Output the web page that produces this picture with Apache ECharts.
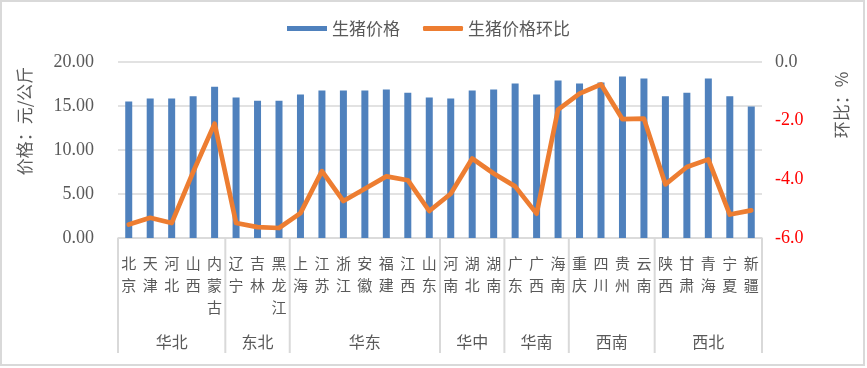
<!DOCTYPE html>
<html>
<head>
<meta charset="utf-8">
<script src="https://cdn.jsdelivr.net/npm/echarts@6/dist/echarts.min.js"></script>
<style>
html,body{margin:0;padding:0;background:#fff;}
#c{width:867px;height:368px;}
</style>
</head>
<body>
<div id="c"></div>
<script>
const provinces = ['北京','天津','河北','山西','内蒙古','辽宁','吉林','黑龙江','上海','江苏','浙江','安徽','福建','江西','山东','河南','湖北','湖南','广东','广西','海南','重庆','四川','贵州','云南','陕西','甘肃','青海','宁夏','新疆'];
const regions = ['华北','东北','华东','华中','华南','西南','西北'];
const regionSizes = [5,3,7,3,3,4,5];
const price = [15.5,15.85,15.85,16.1,17.2,15.97,15.6,15.6,16.3,16.76,16.76,16.76,16.87,16.5,15.97,15.85,16.76,16.87,17.56,16.3,17.9,17.56,17.67,18.35,18.13,16.1,16.5,18.13,16.1,14.94];
const mom = [-5.54,-5.31,-5.49,-3.75,-2.1,-5.49,-5.63,-5.66,-5.15,-3.72,-4.74,-4.32,-3.9,-4.03,-5.08,-4.49,-3.29,-3.8,-4.24,-5.17,-1.62,-1.08,-0.76,-1.95,-1.93,-4.17,-3.58,-3.32,-5.2,-5.06];
const leftTicks = [0,5,10,15,20];
const rightTicks = [-6,-4,-2,0];

const CJK = '"Noto Sans CJK SC", sans-serif';
const NUM = '"Liberation Serif", serif';
const GRAY = '#595959';
const LINE = '#d9d9d9';

const chart = echarts.init(document.getElementById('c'), null, {renderer:'canvas'});
const grid = {left:118, right:105, top:62, bottom:130};

const option = {
  animation:false,
  backgroundColor:'#fff',
  legend:{
    top:20, left:287, padding:0,
    itemWidth:40, itemHeight:5, itemGap:23,
    textStyle:{fontFamily:CJK, fontSize:17, color:GRAY},
    data:[{name:'生猪价格', icon:'rect'},{name:'生猪价格环比', icon:'roundRect'}]
  },
  grid:grid,
  xAxis:[{
    type:'category',
    data:provinces,
    boundaryGap:true,
    axisLine:{show:true, lineStyle:{color:LINE, width:1.5}},
    axisTick:{show:false},
    axisLabel:{
      interval:0, margin:14,
      fontFamily:CJK, fontSize:15, color:GRAY, lineHeight:22,
      formatter:v => v.split('').join('\n')
    }
  }],
  yAxis:[{
    type:'value', min:leftTicks[0], max:leftTicks[leftTicks.length-1], interval:5, position:'left',
    axisLine:{show:false}, axisTick:{show:false},
    splitLine:{lineStyle:{color:LINE, width:1.5}},
    axisLabel:{margin:24, fontFamily:NUM, fontSize:18, color:GRAY, formatter:v=>v.toFixed(2)}
  },{
    type:'value', min:rightTicks[0], max:rightTicks[rightTicks.length-1], interval:2, position:'right',
    axisLine:{show:false}, axisTick:{show:false}, splitLine:{show:false},
    axisLabel:{margin:13, fontFamily:NUM, fontSize:18,
      color:(v)=> (Number(v) < 0 ? '#ff0000' : GRAY),
      formatter:v=>v.toFixed(1)}
  }],
  series:[{
    name:'生猪价格', type:'bar', data:price, barWidth:7,
    itemStyle:{color:'#4F81BD'}, yAxisIndex:0
  },{
    name:'生猪价格环比', type:'line', data:mom, yAxisIndex:1,
    showSymbol:false, symbol:'none',
    lineStyle:{color:'#ED7D31', width:4.7, cap:'round', join:'round'},
    itemStyle:{color:'#ED7D31'}
  }]
};
chart.setOption(option);

// decorations computed through the category scale
const c0 = chart.convertToPixel({xAxisIndex:0}, 0);
const c1 = chart.convertToPixel({xAxisIndex:0}, 1);
const band = c1 - c0;
const axisY = chart.convertToPixel({yAxisIndex:0}, 0);
const graphics = [];
graphics.push({type:'rect', shape:{x:1, y:1, width:863, height:364}, style:{fill:null, stroke:LINE, lineWidth:2}, silent:true});
let start = 0;
const boundaryX = i => chart.convertToPixel({xAxisIndex:0}, Math.min(i, provinces.length-1)) + (i >= provinces.length ? band/2 : -band/2);
graphics.push({type:'line', shape:{x1:boundaryX(0), y1:axisY, x2:boundaryX(0), y2:axisY+115}, style:{stroke:LINE, lineWidth:2}, silent:true});
regions.forEach((r, k) => {
  const end = start + regionSizes[k];
  const xa = boundaryX(start), xb = boundaryX(end);
  graphics.push({type:'line', shape:{x1:xb, y1:axisY, x2:xb, y2:axisY+115}, style:{stroke:LINE, lineWidth:2}, silent:true});
  graphics.push({type:'text', x:(xa+xb)/2, y:axisY+104, style:{text:r, fontFamily:CJK, fontSize:16, fill:GRAY, align:'center', verticalAlign:'middle'}, silent:true});
  start = end;
});
graphics.push({type:'text', x:25, y:121, rotation:Math.PI/2, style:{text:'价格：元/公斤', fontFamily:CJK, fontSize:17, fill:GRAY, align:'center', verticalAlign:'middle'}, silent:true});
graphics.push({type:'text', x:842, y:105, rotation:Math.PI/2, style:{text:'环比：%', fontFamily:CJK, fontSize:17, fill:GRAY, align:'center', verticalAlign:'middle'}, silent:true});
chart.setOption({graphic:graphics});
</script>
</body>
</html>
